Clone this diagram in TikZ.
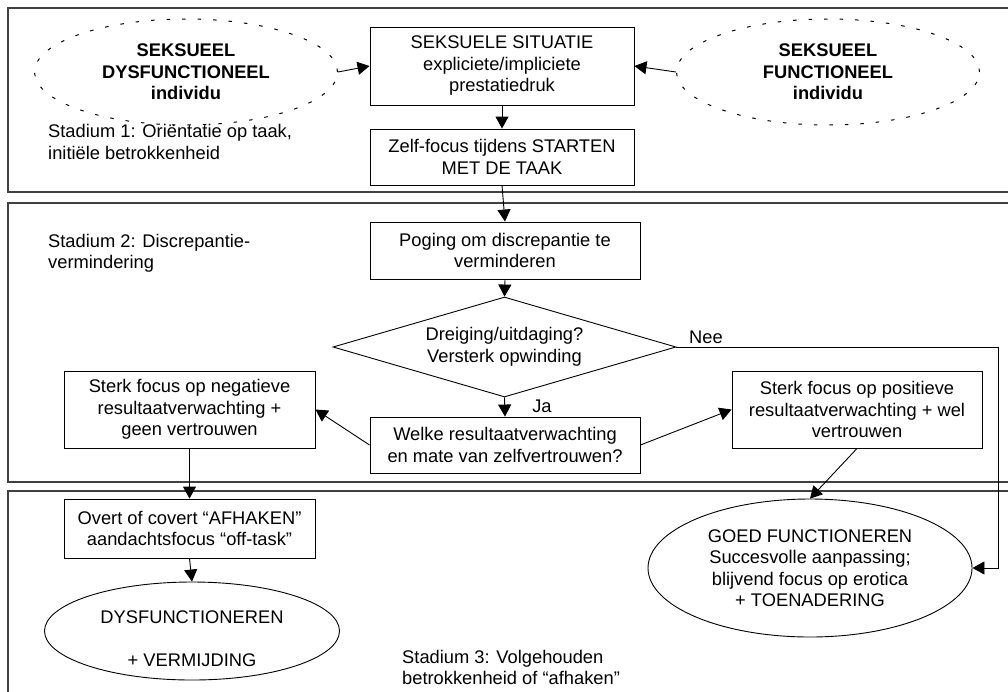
\documentclass[tikz,border=0pt]{standalone}
\usepackage{fontspec}
\setmainfont{Liberation Sans}
\usetikzlibrary{shapes.geometric,arrows.meta}
\begin{document}
\begin{tikzpicture}[x=1pt,y=-1pt,
  font=\fontsize{18.3}{21.5}\selectfont,
  stage/.style={draw=black!75,line width=1.3pt},
  box/.style={draw,line width=0.9pt,rectangle,inner sep=0pt,align=center},
  ell/.style={draw,ellipse,line width=0.9pt,inner sep=0pt,align=center},
  dotell/.style={ellipse,draw,line width=1pt,dash pattern=on 3.5pt off 12pt,inner sep=0pt,align=center,font=\fontsize{18.3}{21.5}\selectfont\bfseries},
  arr/.style={-{Triangle[length=12pt,width=13pt]},line width=0.9pt},
  lbl/.style={align=left,anchor=west,inner sep=0pt}
]
\clip (0,0) rectangle (1008,691);
% stage frames
\draw[stage] (8,8) rectangle (1030,192);
\draw[stage] (8,203) rectangle (1030,482);
\draw[stage] (8,491) rectangle (1030,720);

% stage 1
\node[dotell, minimum width=303pt, minimum height=106pt] (lell) at (186,72) {SEKSUEEL\\DYSFUNCTIONEEL\\individu};
\node[dotell, minimum width=303pt, minimum height=106pt] (rell) at (828,72) {SEKSUEEL\\FUNCTIONEEL\\individu};
\node[box, minimum width=264pt, minimum height=78pt] (sit) at (502,66) {SEKSUELE SITUATIE\\expliciete/impliciete\\prestatiedruk};
\node[box, minimum width=264pt, minimum height=56pt] (zelf) at (502,157) {Zelf-focus tijdens STARTEN\\MET DE TAAK};
\node[lbl] (s1) at (48,142) {Stadium 1: Oriëntatie op taak,\\initiële betrokkenheid};

% stage 2
\node[box, minimum width=270pt, minimum height=57pt] (pog) at (505,250.5) {Poging om discrepantie te\\verminderen};
\node[diamond, draw, line width=0.9pt, minimum width=343pt, minimum height=100pt, aspect=3.43, inner sep=0pt, align=center] (dia) at (504.5,347) {Dreiging/uitdaging?\\Versterk opwinding};
\node[box, minimum width=270pt, minimum height=56pt] (wel) at (505,445) {Welke resultaatverwachting\\en mate van zelfvertrouwen?};
\node[box, minimum width=251pt, minimum height=77pt] (neg) at (189.5,409.5) {Sterk focus op negatieve\\resultaatverwachting +\\geen vertrouwen};
\node[box, minimum width=250pt, minimum height=77pt] (pos) at (857,409.5) {Sterk focus op positieve\\resultaatverwachting + wel\\vertrouwen};
\node[lbl] (s2) at (48,253.5) {Stadium 2: Discrepantie-\\vermindering};
\node[inner sep=0pt] (nee) at (706,337) {Nee};
\node[inner sep=0pt] (ja) at (542,406) {Ja};

% stage 3
\node[box, minimum width=251pt, minimum height=59pt] (ovt) at (189.5,528.5) {Overt of covert “AFHAKEN”\\aandachtsfocus “off-task”};
\node[ell, minimum width=295pt, minimum height=98pt] (dys) at (192,631) {};
\node[align=center, inner sep=0pt] (dyst) at (192,638.5) {DYSFUNCTIONEREN\\[21.5pt]+ VERMIJDING};
\node[ell, minimum width=324pt, minimum height=138pt] (goed) at (810,568) {GOED FUNCTIONEREN\\Succesvolle aanpassing;\\blijvend focus op erotica\\+ TOENADERING};
\node[lbl] (s3) at (402,667.5) {Stadium 3: Volgehouden\\betrokkenheid of “afhaken”};

% connectors
\draw[arr] (lell.east) -- (sit.west);
\draw[arr] (rell.west) -- (sit.east);
\draw[arr] (sit.south) -- (zelf.north);
\draw[arr] (zelf.south) -- (pog.north);
\draw[arr] (pog.south) -- (dia.north);
\draw[arr] (dia.south) -- (wel.north);
\draw[arr] (wel.west) -- (neg.east);
\draw[arr] (wel.east) -- (pos.west);
\draw[arr] (neg.south) -- (ovt.north);
\draw[arr] (ovt.south) -- (dys.north);
\draw[arr] (pos.south) -- (goed.north);
\coordinate (c1) at (998,347);
\coordinate (c2) at (998,568);
\draw[arr] (dia.east) -- (c1) -- (c2) -- (goed.east);
\end{tikzpicture}
\end{document}
